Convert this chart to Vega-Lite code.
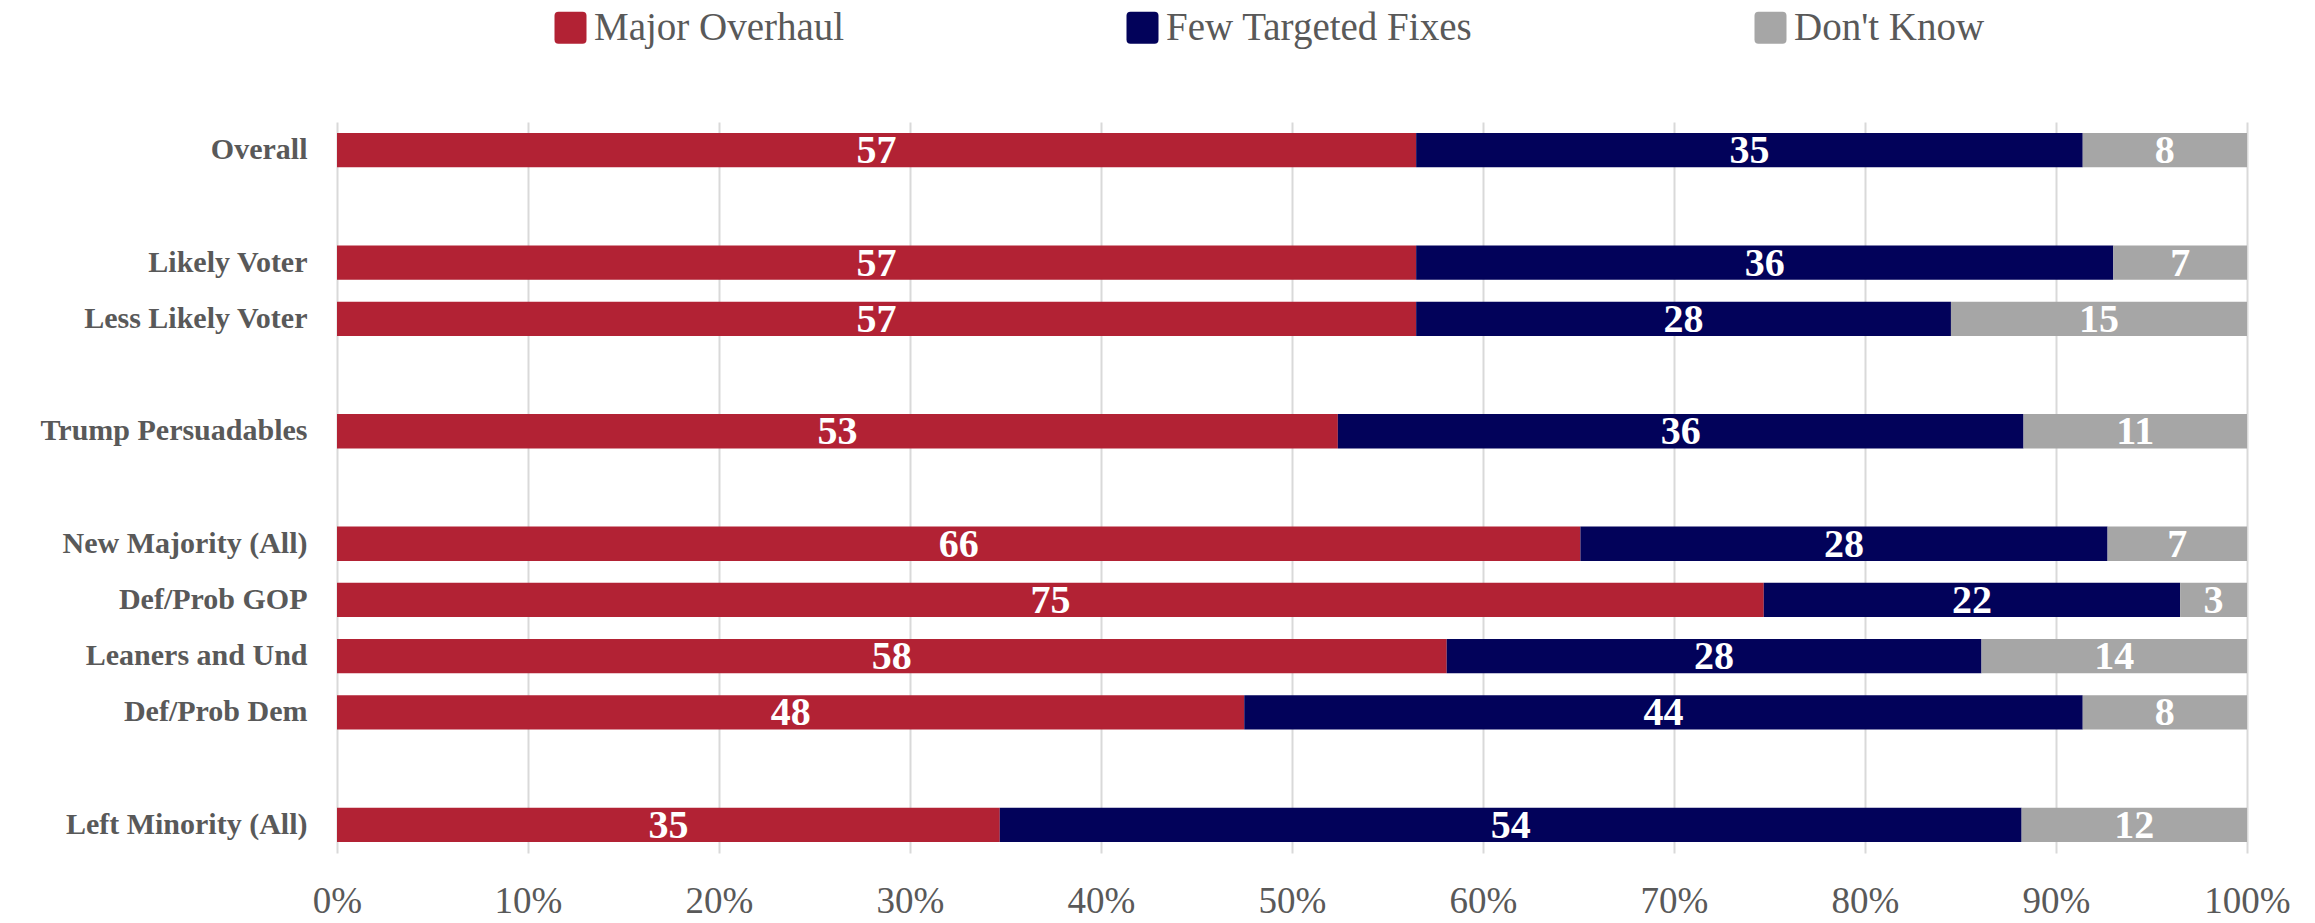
{
  "$schema": "https://vega.github.io/schema/vega-lite/v6.json",
  "autosize": {"type": "none"},
  "padding": {"left": 337, "top": 122, "right": 68, "bottom": 70},
  "width": 1910,
  "height": 731,
  "background": "white",
  "config": {
    "font": "Liberation Serif",
    "view": {"stroke": null}
  },
  "data": {
    "values": [
      {"group": "Overall", "response": "Major Overhaul", "pct": 56.5, "label": 57},
      {"group": "Overall", "response": "Few Targeted Fixes", "pct": 34.9, "label": 35},
      {"group": "Overall", "response": "Don't Know", "pct": 8.6, "label": 8},
      {"group": "Likely Voter", "response": "Major Overhaul", "pct": 56.5, "label": 57},
      {"group": "Likely Voter", "response": "Few Targeted Fixes", "pct": 36.5, "label": 36},
      {"group": "Likely Voter", "response": "Don't Know", "pct": 7.0, "label": 7},
      {"group": "Less Likely Voter", "response": "Major Overhaul", "pct": 56.5, "label": 57},
      {"group": "Less Likely Voter", "response": "Few Targeted Fixes", "pct": 28.0, "label": 28},
      {"group": "Less Likely Voter", "response": "Don't Know", "pct": 15.5, "label": 15},
      {"group": "Trump Persuadables", "response": "Major Overhaul", "pct": 52.4, "label": 53},
      {"group": "Trump Persuadables", "response": "Few Targeted Fixes", "pct": 35.9, "label": 36},
      {"group": "Trump Persuadables", "response": "Don't Know", "pct": 11.7, "label": 11},
      {"group": "New Majority (All)", "response": "Major Overhaul", "pct": 65.1, "label": 66},
      {"group": "New Majority (All)", "response": "Few Targeted Fixes", "pct": 27.6, "label": 28},
      {"group": "New Majority (All)", "response": "Don't Know", "pct": 7.3, "label": 7},
      {"group": "Def/Prob GOP", "response": "Major Overhaul", "pct": 74.7, "label": 75},
      {"group": "Def/Prob GOP", "response": "Few Targeted Fixes", "pct": 21.8, "label": 22},
      {"group": "Def/Prob GOP", "response": "Don't Know", "pct": 3.5, "label": 3},
      {"group": "Leaners and Und", "response": "Major Overhaul", "pct": 58.1, "label": 58},
      {"group": "Leaners and Und", "response": "Few Targeted Fixes", "pct": 28.0, "label": 28},
      {"group": "Leaners and Und", "response": "Don't Know", "pct": 13.9, "label": 14},
      {"group": "Def/Prob Dem", "response": "Major Overhaul", "pct": 47.5, "label": 48},
      {"group": "Def/Prob Dem", "response": "Few Targeted Fixes", "pct": 43.9, "label": 44},
      {"group": "Def/Prob Dem", "response": "Don't Know", "pct": 8.6, "label": 8},
      {"group": "Left Minority (All)", "response": "Major Overhaul", "pct": 34.7, "label": 35},
      {"group": "Left Minority (All)", "response": "Few Targeted Fixes", "pct": 53.5, "label": 54},
      {"group": "Left Minority (All)", "response": "Don't Know", "pct": 11.8, "label": 12}
    ]
  },
  "transform": [
    {"stack": "pct", "groupby": ["group"], "sort": [{"field": "response", "order": "descending"}], "as": ["x0", "x1"]},
    {"calculate": "(datum.x0 + datum.x1) / 2", "as": "mid"}
  ],
  "encoding": {
    "y": {
      "field": "group",
      "type": "nominal",
      "title": null,
      "scale": {
        "domain": ["Overall", "g1", "Likely Voter", "Less Likely Voter", "g2", "Trump Persuadables", "g3", "New Majority (All)", "Def/Prob GOP", "Leaners and Und", "Def/Prob Dem", "g4", "Left Minority (All)"],
        "paddingInner": 0.39,
        "paddingOuter": 0.195
      },
      "axis": {
        "domain": false,
        "ticks": false,
        "labelPadding": 30,
        "labelLimit": 400,
        "labelFont": "Liberation Serif",
        "labelFontSize": 30,
        "labelFontWeight": "bold",
        "labelColor": "#595959",
        "labelExpr": "length(datum.value) < 3 ? '' : datum.value"
      }
    }
  },
  "layer": [
    {
      "mark": {"type": "bar"},
      "encoding": {
        "x": {
          "field": "x0",
          "type": "quantitative",
          "title": null,
          "scale": {"domain": [0, 100], "nice": false},
          "axis": {
            "values": [0, 10, 20, 30, 40, 50, 60, 70, 80, 90, 100],
            "domain": false,
            "ticks": false,
            "grid": true,
            "gridColor": "#D9D9D9",
            "gridWidth": 2,
            "labelPadding": 30,
            "labelFont": "Liberation Serif",
            "labelFontSize": 37,
            "labelColor": "#595959",
            "labelFlush": false,
            "labelExpr": "datum.value + '%'"
          }
        },
        "x2": {"field": "x1"},
        "color": {
          "field": "response",
          "type": "nominal",
          "scale": {
            "domain": ["Major Overhaul", "Few Targeted Fixes", "Don't Know"],
            "range": ["#B22234", "#02025A", "#A6A6A6"]
          },
          "legend": {
            "title": null,
            "orient": "none",
            "direction": "horizontal",
            "legendX": 214,
            "legendY": -114,
            "symbolType": "M-1,-0.75 Q-1,-1 -0.75,-1 L0.75,-1 Q1,-1 1,-0.75 L1,0.75 Q1,1 0.75,1 L-0.75,1 Q-1,1 -1,0.75 Z",
            "symbolSize": 1024,
            "symbolStrokeWidth": 0,
            "symbolOpacity": 1,
            "labelFont": "Liberation Serif",
            "labelFontSize": 39,
            "labelColor": "#595959",
            "labelOffset": 4,
            "labelLimit": 600,
            "columnPadding": 278
          }
        }
      }
    },
    {
      "mark": {"type": "text", "color": "white", "fontWeight": "bold", "fontSize": 40, "font": "Liberation Serif", "baseline": "middle", "align": "center", "dy": 1},
      "encoding": {
        "x": {"field": "mid", "type": "quantitative"},
        "text": {"field": "label", "type": "quantitative"}
      }
    }
  ]
}
